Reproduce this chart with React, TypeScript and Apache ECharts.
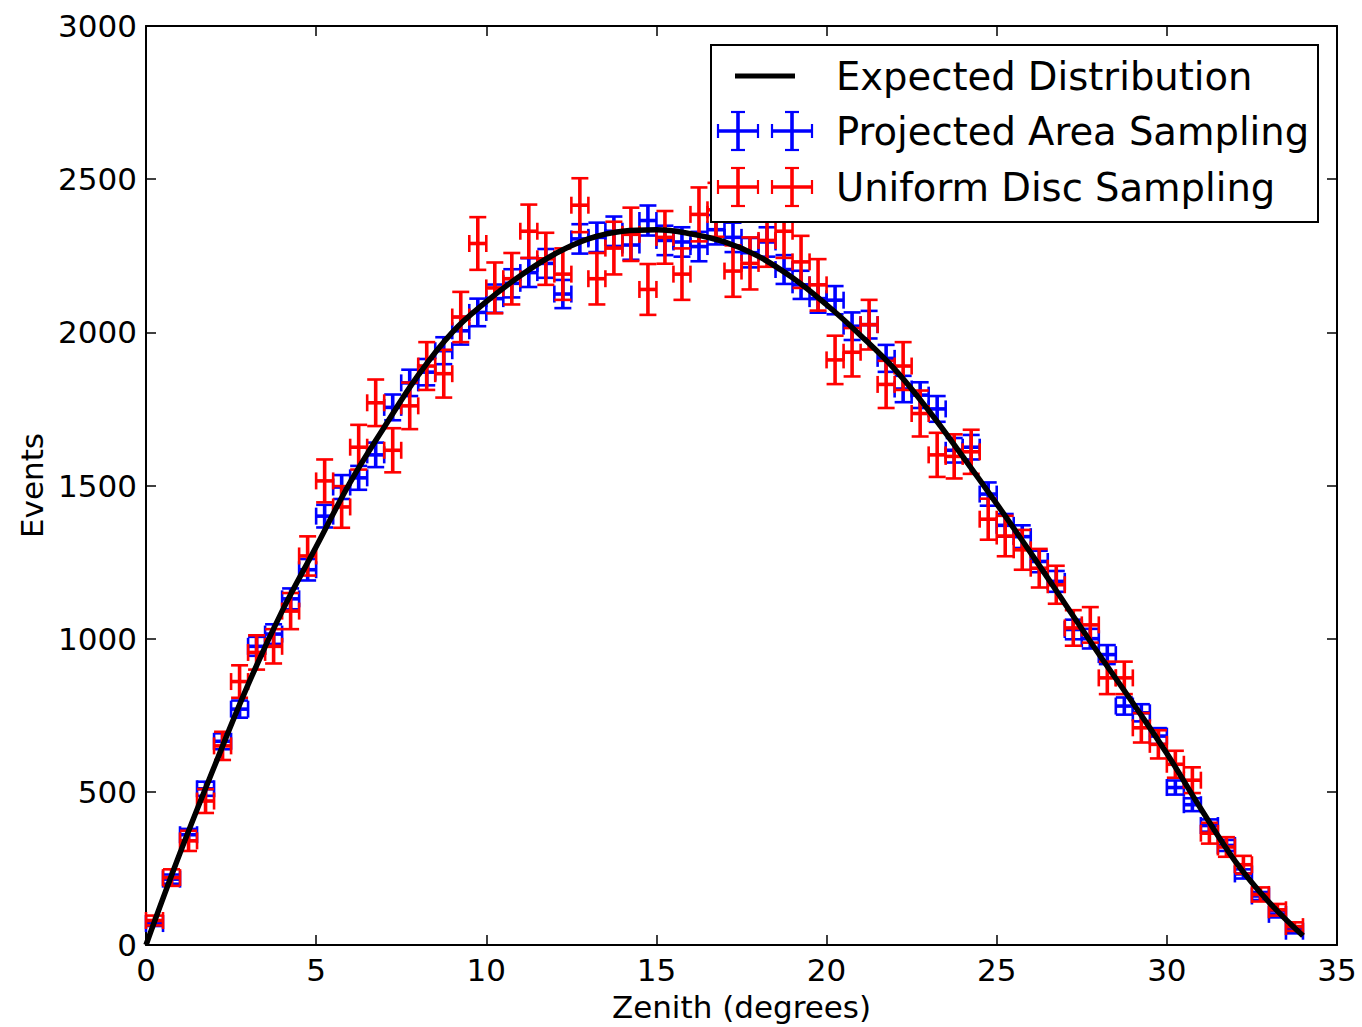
import React, { useEffect, useRef } from "react";
import * as echarts from "echarts";

// Bin centres (zenith, degrees) – bins are 0.5 degrees wide
const binCenters = [
  0.25, 0.75, 1.25, 1.75, 2.25, 2.75, 3.25, 3.75, 4.25, 4.75,
  5.25, 5.75, 6.25, 6.75, 7.25, 7.75, 8.25, 8.75, 9.25, 9.75,
  10.25, 10.75, 11.25, 11.75, 12.25, 12.75, 13.25, 13.75, 14.25, 14.75,
  15.25, 15.75, 16.25, 16.75, 17.25, 17.75, 18.25, 18.75, 19.25, 19.75,
  20.25, 20.75, 21.25, 21.75, 22.25, 22.75, 23.25, 23.75, 24.25, 24.75,
  25.25, 25.75, 26.25, 26.75, 27.25, 27.75, 28.25, 28.75, 29.25, 29.75,
  30.25, 30.75, 31.25, 31.75, 32.25, 32.75, 33.25, 33.75,
];
const BIN_HALF_WIDTH = 0.25;

// Projected Area Sampling (blue)
const projectedValues = [
  70, 215, 360, 510, 665, 770, 975, 1015, 1130, 1225,
  1400, 1495, 1525, 1600, 1755, 1835, 1870, 1940, 2005, 2065,
  2110, 2160, 2195, 2225, 2125, 2305, 2310, 2330, 2285, 2365,
  2300, 2295, 2280, 2335, 2310, 2260, 2295, 2205, 2155, 2110,
  2105, 2020, 2025, 1915, 1815, 1795, 1750, 1615, 1625, 1472,
  1370, 1333, 1252, 1187, 1030, 1000, 948, 780, 758, 682,
  514, 458, 390, 325, 232, 160, 100, 45,
];
const projectedErrors = [
  8, 15, 19, 23, 26, 28, 31, 32, 34, 35,
  37, 39, 39, 40, 42, 43, 43, 44, 45, 45,
  46, 46, 47, 47, 46, 48, 48, 48, 48, 49,
  48, 48, 48, 48, 48, 48, 48, 47, 46, 46,
  46, 45, 45, 44, 43, 42, 42, 40, 40, 38,
  37, 37, 35, 34, 32, 32, 31, 28, 28, 26,
  23, 21, 20, 18, 15, 13, 10, 7,
];

// Uniform Disc Sampling (red)
const uniformValues = [
  80, 220, 340, 470, 650, 860, 955, 975, 1090, 1270,
  1515, 1430, 1625, 1770, 1615, 1760, 1890, 1865, 2050, 2290,
  2145, 2175, 2330, 2240, 2190, 2415, 2175, 2275, 2320, 2140,
  2310, 2190, 2385, 2400, 2200, 2225, 2300, 2330, 2230, 2155,
  1910, 1935, 2025, 1830, 1890, 1735, 1600, 1595, 1610, 1390,
  1335, 1290, 1230, 1176, 1035, 1045, 872, 872, 709, 655,
  590, 538, 365, 320, 262, 165, 115, 60,
];
const uniformErrors = [
  16, 27, 33, 39, 46, 53, 56, 56, 59, 64,
  70, 68, 73, 76, 72, 76, 78, 78, 82, 86,
  83, 84, 87, 85, 84, 88, 84, 86, 87, 83,
  86, 84, 88, 88, 84, 85, 86, 87, 85, 84,
  79, 79, 81, 77, 78, 75, 72, 72, 72, 67,
  66, 65, 63, 62, 58, 58, 53, 53, 48, 46,
  44, 42, 34, 32, 29, 23, 19, 14,
];

// Expected distribution curve
const expectedX = [
  0, 1, 2, 3, 4, 5, 6, 7, 8, 9, 10, 11, 12, 13, 14, 15, 16, 17,
  18, 19, 20, 21, 22, 23, 24, 25, 26, 27, 28, 29, 30, 31, 32, 33, 34,
];
const expectedY = [
  0, 300, 580, 850, 1090, 1300, 1510, 1690, 1860, 2000, 2100, 2185, 2255, 2305, 2330, 2335, 2322, 2295,
  2248, 2178, 2090, 1990, 1880, 1745, 1595, 1440, 1280, 1115, 950, 790, 625, 445, 275, 140, 30,
];

const legendLabels = [
  "Expected Distribution",
  "Projected Area Sampling",
  "Uniform Disc Sampling",
];

const FONT = "DejaVu Sans";
const BLUE = "#0000ff";
const RED = "#ff0000";

function errorBarRenderer(color: string) {
  return (params: any, api: any) => {
    const x = api.value(0);
    const y = api.value(1);
    const e = api.value(2);
    const c = api.coord([x, y]);
    const t = api.coord([x, y + e]);
    const b = api.coord([x, y - e]);
    const l = api.coord([x - BIN_HALF_WIDTH, y]);
    const r = api.coord([x + BIN_HALF_WIDTH, y]);
    const cap = 8.5;
    const bar = { stroke: color, lineWidth: 3.6, fill: null };
    const capS = { stroke: color, lineWidth: 2.6, fill: null };
    return {
      type: "group",
      children: [
        { type: "line", shape: { x1: c[0], y1: t[1], x2: c[0], y2: b[1] }, style: bar },
        { type: "line", shape: { x1: l[0], y1: c[1], x2: r[0], y2: c[1] }, style: bar },
        { type: "line", shape: { x1: c[0] - cap, y1: t[1], x2: c[0] + cap, y2: t[1] }, style: capS },
        { type: "line", shape: { x1: c[0] - cap, y1: b[1], x2: c[0] + cap, y2: b[1] }, style: capS },
        { type: "line", shape: { x1: l[0], y1: c[1] - cap, x2: l[0], y2: c[1] + cap }, style: capS },
        { type: "line", shape: { x1: r[0], y1: c[1] - cap, x2: r[0], y2: c[1] + cap }, style: capS },
      ],
    };
  };
}

function legendCross(cx: number, cy: number, color: string) {
  const hw = 20;
  const hh = 19;
  const cap = 7;
  const bar = { stroke: color, lineWidth: 3.6 };
  const capS = { stroke: color, lineWidth: 2.2 };
  return [
    { type: "line", z: 11, shape: { x1: cx, y1: cy - hh, x2: cx, y2: cy + hh }, style: bar },
    { type: "line", z: 11, shape: { x1: cx - hw, y1: cy, x2: cx + hw, y2: cy }, style: bar },
    { type: "line", z: 11, shape: { x1: cx - cap, y1: cy - hh, x2: cx + cap, y2: cy - hh }, style: capS },
    { type: "line", z: 11, shape: { x1: cx - cap, y1: cy + hh, x2: cx + cap, y2: cy + hh }, style: capS },
    { type: "line", z: 11, shape: { x1: cx - hw, y1: cy - cap, x2: cx - hw, y2: cy + cap }, style: capS },
    { type: "line", z: 11, shape: { x1: cx + hw, y1: cy - cap, x2: cx + hw, y2: cy + cap }, style: capS },
  ];
}

export default function App() {
  const ref = useRef<HTMLDivElement>(null);

  useEffect(() => {
    if (!ref.current) return;
    const chart = echarts.init(ref.current, undefined, { renderer: "svg" });

    const projData = binCenters.map((x, i) => [x, projectedValues[i], projectedErrors[i]]);
    const unifData = binCenters.map((x, i) => [x, uniformValues[i], uniformErrors[i]]);
    const expData = expectedX.map((x, i) => [x, expectedY[i]]);

    const axisLabelStyle = { color: "#000", fontFamily: FONT, fontSize: 31 };
    const TICK_LEN = 10;
    const spine = { show: true, onZero: false, lineStyle: { color: "#000", width: 2 } };
    const noLine = { show: false, onZero: false };
    const outTick = {
      show: true,
      inside: false,
      length: TICK_LEN,
      lineStyle: { color: "#000", width: 1.5 },
    };
    const xBase = { type: "value", min: 0, max: 35, interval: 5, splitLine: { show: false } };
    const yBase = { type: "value", min: 0, max: 3000, interval: 500, splitLine: { show: false } };

    const rows = [76, 131, 187];

    chart.setOption({
      animation: false,
      backgroundColor: "#fff",
      grid: { left: 146, top: 26, right: 25, bottom: 79, show: false },
      xAxis: [
        {
          ...xBase,
          position: "bottom",
          name: "Zenith (degrees)",
          nameLocation: "middle",
          nameGap: 46,
          nameTextStyle: { color: "#000", fontFamily: FONT, fontSize: 31 },
          axisLine: spine,
          axisTick: { show: false },
          axisLabel: { ...axisLabelStyle, margin: 9, formatter: (v: number) => String(v) },
        },
        { ...xBase, position: "top", axisLine: spine, axisTick: { show: false }, axisLabel: { show: false } },
        // inward ticks: axes shifted into the plot, ticks pointing back to the spine
        { ...xBase, position: "bottom", offset: -TICK_LEN, axisLine: noLine, axisTick: outTick, axisLabel: { show: false } },
        { ...xBase, position: "top", offset: -TICK_LEN, axisLine: noLine, axisTick: outTick, axisLabel: { show: false } },
      ],
      yAxis: [
        {
          ...yBase,
          position: "left",
          name: "Events",
          nameLocation: "middle",
          nameGap: 90,
          nameTextStyle: { color: "#000", fontFamily: FONT, fontSize: 31 },
          axisLine: spine,
          axisTick: { show: false },
          axisLabel: { ...axisLabelStyle, margin: 9, formatter: (v: number) => String(v) },
        },
        { ...yBase, position: "right", axisLine: spine, axisTick: { show: false }, axisLabel: { show: false } },
        { ...yBase, position: "left", offset: -TICK_LEN, axisLine: noLine, axisTick: outTick, axisLabel: { show: false } },
        { ...yBase, position: "right", offset: -TICK_LEN, axisLine: noLine, axisTick: outTick, axisLabel: { show: false } },
      ],
      series: [
        {
          name: legendLabels[1],
          type: "custom",
          xAxisIndex: 0,
          yAxisIndex: 0,
          renderItem: errorBarRenderer(BLUE),
          encode: { x: 0, y: 1 },
          data: projData,
          z: 2,
          silent: true,
        },
        {
          name: legendLabels[2],
          type: "custom",
          xAxisIndex: 0,
          yAxisIndex: 0,
          renderItem: errorBarRenderer(RED),
          encode: { x: 0, y: 1 },
          data: unifData,
          z: 3,
          silent: true,
        },
        {
          name: legendLabels[0],
          type: "line",
          xAxisIndex: 0,
          yAxisIndex: 0,
          data: expData,
          showSymbol: false,
          smooth: 0.4,
          lineStyle: { color: "#000", width: 5.5 },
          z: 5,
          silent: true,
        },
      ],
      graphic: [
        {
          type: "rect",
          z: 10,
          shape: { x: 711, y: 45, width: 607, height: 177 },
          style: { fill: "#fff", stroke: "#000", lineWidth: 2 },
        },
        {
          type: "line",
          z: 11,
          shape: { x1: 735, y1: rows[0], x2: 795, y2: rows[0] },
          style: { stroke: "#000", lineWidth: 5 },
        },
        ...legendCross(738, rows[1], BLUE),
        ...legendCross(792, rows[1], BLUE),
        ...legendCross(738, rows[2], RED),
        ...legendCross(792, rows[2], RED),
        ...legendLabels.map((label, i) => ({
          type: "text",
          z: 11,
          x: 836,
          y: rows[i],
          style: {
            text: label,
            fill: "#000",
            font: `38.5px "${FONT}"`,
            textAlign: "left",
            textVerticalAlign: "middle",
          },
        })),
      ],
    });

    return () => chart.dispose();
  }, []);

  return (
    <div
      ref={ref}
      style={{ position: "absolute", left: 0, top: 0, width: 1362, height: 1027 }}
    />
  );
}
